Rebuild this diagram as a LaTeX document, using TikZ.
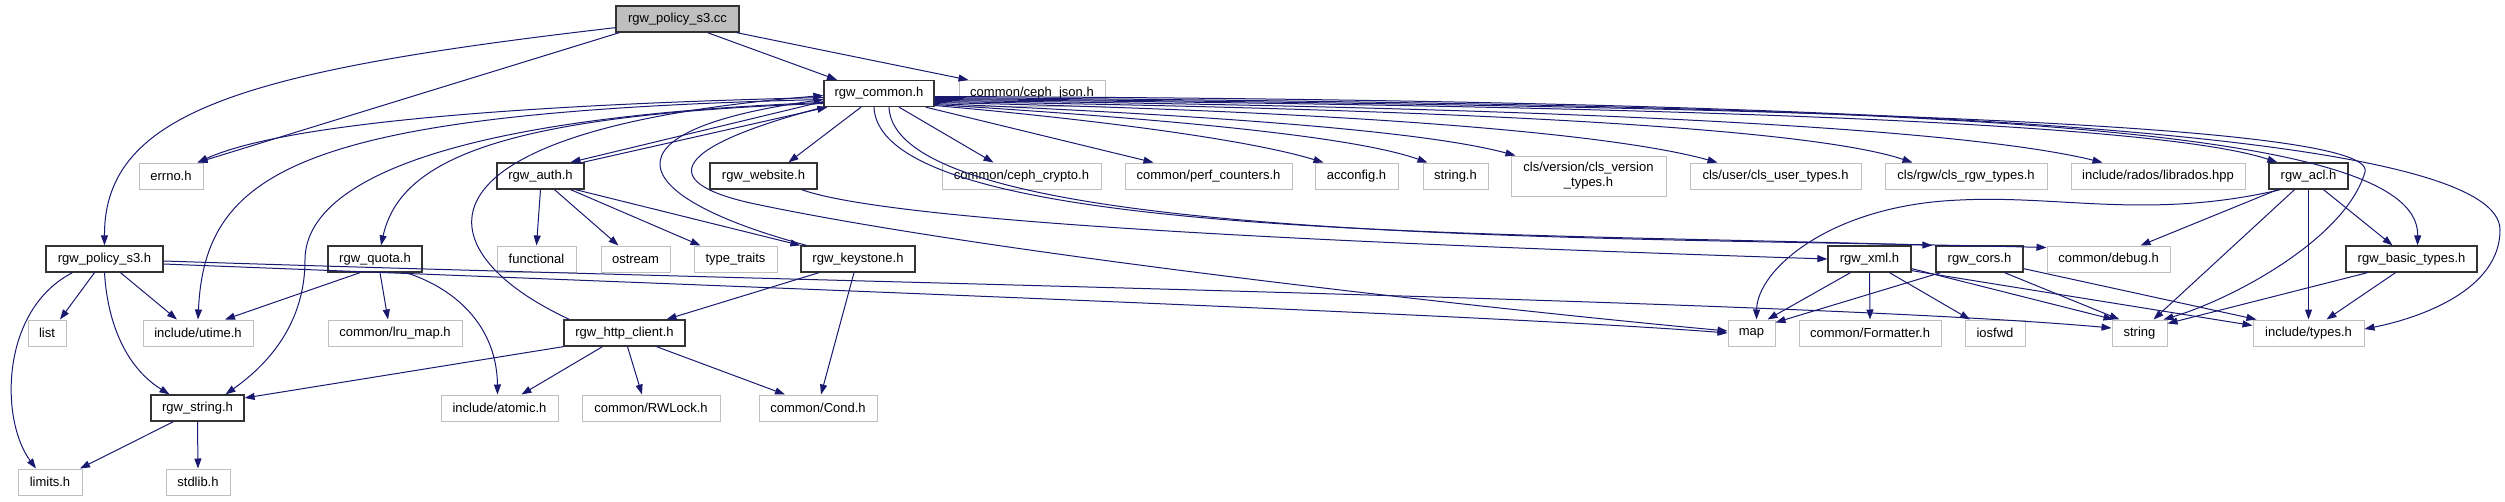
\documentclass[tikz,border=0pt]{standalone}
\usepackage{fontspec}
\setmainfont{Liberation Sans}
\usetikzlibrary{arrows.meta}

\definecolor{edgeblue}{HTML}{191970}
\definecolor{sysgray}{HTML}{BFBFBF}

\begin{document}
\begin{tikzpicture}[x=1pt, y=-1pt,
    every node/.style={font=\fontsize{13}{15}\selectfont, inner sep=0pt, minimum height=26pt},
    hdr/.style={draw=black!80, line width=1.3pt, fill=white},
    sys/.style={draw=sysgray, line width=1pt, fill=white},
    root/.style={draw=black!80, line width=1.3pt, fill=sysgray},
    dep/.style={draw=edgeblue, line width=1pt, -{Triangle[length=10pt,width=7pt]}}]

    \useasboundingbox (0,0) rectangle (2505,501);

    % row 0 and 1
    \node [root, minimum width=123pt] (cc) at (677.5,19) {rgw\_policy\_s3.cc};
    \node [hdr, minimum width=110pt] (common) at (879,93.5) {rgw\_common.h};
    \node [sys, minimum width=146pt] (cephjson) at (1032,93.5) {common/ceph\_json.h};

    % row 2
    \node [sys, minimum width=64pt] (errno) at (171,176) {errno.h};
    \node [hdr, minimum width=87pt] (auth) at (540.5,176) {rgw\_auth.h};
    \node [hdr, minimum width=107pt] (website) at (763.5,176) {rgw\_website.h};
    \node [sys, minimum width=159pt] (cephcrypto) at (1021.5,176) {common/ceph\_crypto.h};
    \node [sys, minimum width=167pt] (perfcounters) at (1208.5,176) {common/perf\_counters.h};
    \node [sys, minimum width=83pt] (acconfig) at (1356.5,176) {acconfig.h};
    \node [sys, minimum width=65pt] (stringh) at (1455.5,176) {string.h};
    \node [sys, minimum width=155pt, minimum height=40pt, align=center] (clsversion) at (1588.5,176) {cls/version/cls\_version\\\_types.h};
    \node [sys, minimum width=171pt] (clsuser) at (1775.5,176) {cls/user/cls\_user\_types.h};
    \node [sys, minimum width=162pt] (clsrgw) at (1966,176) {cls/rgw/cls\_rgw\_types.h};
    \node [sys, minimum width=174pt] (librados) at (2158,176) {include/rados/librados.hpp};
    \node [hdr, minimum width=79pt] (acl) at (2308.5,176) {rgw\_acl.h};

    % row 3
    \node [hdr, minimum width=117pt] (policyh) at (104.5,259) {rgw\_policy\_s3.h};
    \node [hdr, minimum width=94pt] (quota) at (375,259) {rgw\_quota.h};
    \node [sys, minimum width=79pt] (functional) at (536.5,259) {functional};
    \node [sys, minimum width=69pt] (ostream) at (635.5,259) {ostream};
    \node [sys, minimum width=83pt] (typetraits) at (735.5,259) {type\_traits};
    \node [hdr, minimum width=114pt] (keystone) at (858,259) {rgw\_keystone.h};
    \node [hdr, minimum width=83pt] (xml) at (1869.5,259) {rgw\_xml.h};
    \node [hdr, minimum width=87pt] (cors) at (1979.5,259) {rgw\_cors.h};
    \node [sys, minimum width=123pt] (debug) at (2108.5,259) {common/debug.h};
    \node [hdr, minimum width=131pt] (basictypes) at (2411.5,259) {rgw\_basic\_types.h};

    % row 4
    \node [sys, minimum width=38pt] (list) at (47,333) {list};
    \node [sys, minimum width=110pt] (utime) at (198,333) {include/utime.h};
    \node [sys, minimum width=134pt] (lrumap) at (395,333) {common/lru\_map.h};
    \node [hdr, minimum width=121pt] (httpclient) at (624.5,333) {rgw\_http\_client.h};
    \node [sys, minimum width=47pt] (map) at (1751.5,333) {map};
    \node [sys, minimum width=142pt] (formatter) at (1870,333) {common/Formatter.h};
    \node [sys, minimum width=60pt] (iosfwd) at (1995,333) {iosfwd};
    \node [sys, minimum width=55pt] (string) at (2139.5,333) {string};
    \node [sys, minimum width=111pt] (types) at (2308.5,333) {include/types.h};

    % row 5 and 6
    \node [hdr, minimum width=93pt] (rgwstring) at (197.5,408) {rgw\_string.h};
    \node [sys, minimum width=117pt] (atomic) at (499.5,408) {include/atomic.h};
    \node [sys, minimum width=138pt] (rwlock) at (651,408) {common/RWLock.h};
    \node [sys, minimum width=118pt] (cond) at (818,408) {common/Cond.h};
    \node [sys, minimum width=64pt] (limits) at (50,482) {limits.h};
    \node [sys, minimum width=64pt] (stdlib) at (198,482) {stdlib.h};

    % rgw_policy_s3.cc
    \draw [dep] ([yshift=5pt]cc.south west) .. controls (250,70) and (104,110) .. (policyh.north);
    \draw [dep] ([xshift=4pt]cc.south west) -- ([xshift=-6pt]errno.north east);
    \draw [dep] ([xshift=30pt]cc.south) -- ([xshift=-42pt]common.north);
    \draw [dep] ([xshift=-3pt]cc.south east) -- ([xshift=10pt]cephjson.north west);

    % rgw_common.h, to the left
    \draw [dep] ([yshift=-4pt]common.west) .. controls (500,105) and (280,125) .. ([xshift=-6pt]errno.north east);
    \draw [dep] ([yshift=-6pt]common.west) .. controls (300,112) and (205,170) .. (utime.north);
    \draw [dep] ([yshift=-9pt]common.west) .. controls (420,118) and (305,190) .. (305,260)
        .. controls (305,330) and (260,370) .. ([xshift=28pt]rgwstring.north);
    \draw [dep] ([yshift=-10pt]common.west) .. controls (500,115) and (400,160) .. ([xshift=6pt]quota.north);
    \draw [dep] ([yshift=-8pt]common.west) -- ([xshift=30pt]auth.north);
    \draw [dep] (common.south west) .. controls (660,150) and (660,185) .. (760,205)
        .. controls (1000,255) and (1500,310) .. ([yshift=2pt]map.west);

    % rgw_common.h, below
    \draw [dep] ([xshift=-18pt]common.south) -- ([xshift=25pt]website.north);
    \draw [dep] ([xshift=20pt]common.south) -- ([xshift=-28pt]cephcrypto.north);
    \draw [dep] ([xshift=-9pt]common.south east) -- ([xshift=-55pt]perfcounters.north);
    \draw [dep] ([xshift=-5pt]common.south) .. controls (880,240) and (1500,232) .. ([xshift=-3pt]cors.north west);
    \draw [dep] ([xshift=10pt]common.south) .. controls (895,245) and (1600,236) .. ([yshift=-2pt]debug.north west);

    % rgw_common.h, to the right
    \draw [dep] ([yshift=-12pt]common.east) .. controls (1100,120) and (1250,140) .. ([xshift=-33pt]acconfig.north);
    \draw [dep] ([yshift=-11pt]common.east) .. controls (1150,118) and (1350,135) .. ([xshift=-28pt]stringh.north);
    \draw [dep] ([yshift=-10pt]common.east) .. controls (1200,115) and (1420,130) .. ([xshift=5pt]clsversion.north west);
    \draw [dep] ([yshift=-9pt]common.east) .. controls (1300,110) and (1600,130) .. ([xshift=28pt]clsuser.north west);
    \draw [dep] ([yshift=-8pt]common.east) .. controls (1400,108) and (1800,125) .. ([xshift=28pt]clsrgw.north west);
    \draw [dep] ([yshift=-7pt]common.east) .. controls (1500,106) and (1950,125) .. ([xshift=32pt]librados.north west);
    \draw [dep] ([yshift=-6pt]common.east) .. controls (1600,105) and (2150,120) .. ([xshift=9pt]acl.north west);
    \draw [dep] ([yshift=-5pt]common.east) .. controls (1700,105) and (2380,120) .. (2365,172)
        .. controls (2345,240) and (2230,300) .. ([xshift=-4pt]string.north east);
    \draw [dep] ([yshift=-4pt]common.east) .. controls (1900,105) and (2420,120) .. ([xshift=6pt]basictypes.north);
    \draw [dep] ([yshift=-3pt]common.east) .. controls (2000,100) and (2500,140) .. (2500,230)
        .. controls (2500,290) and (2420,318) .. ([yshift=4pt]types.east);

    % back to rgw_common.h
    \draw [dep] ([xshift=-2pt]auth.north east) -- ([xshift=4pt]common.south west);
    \draw [dep] ([xshift=6pt]keystone.north west) .. controls (620,195) and (600,130) .. ([yshift=-6pt]common.west);
    \draw [dep] ([xshift=6pt]httpclient.north west) .. controls (420,250) and (400,130) .. ([yshift=-2pt]common.west);

    % rgw_policy_s3.h
    \draw [dep] ([xshift=-10pt]policyh.south) -- ([xshift=13pt]list.north);
    \draw [dep] ([xshift=16pt]policyh.south) -- ([xshift=-21pt]utime.north);
    \draw [dep] (policyh.south) .. controls (108,330) and (130,370) .. ([xshift=-28pt]rgwstring.north);
    \draw [dep] ([xshift=-32pt]policyh.south) .. controls (0,310) and (0,420) .. ([xshift=-14pt]limits.north);
    \draw [dep] ([yshift=-5pt]policyh.east) .. controls (700,285) and (1500,315) .. (map.west);
    \draw [dep] ([yshift=-2pt]policyh.east) .. controls (800,282) and (1800,300) .. ([yshift=5pt]string.west);

    % rgw_quota.h, rgw_auth.h
    \draw [dep] ([xshift=-15pt]quota.south) -- ([xshift=27pt]utime.north);
    \draw [dep] ([xshift=5pt]quota.south) -- ([xshift=-7pt]lrumap.north);
    \draw [dep] ([xshift=31pt]quota.south) .. controls (460,290) and (497,330) .. ([xshift=-2pt]atomic.north);
    \draw [dep] (auth.south) -- (functional.north);
    \draw [dep] ([xshift=14pt]auth.south) -- ([xshift=-17pt]ostream.north);
    \draw [dep] ([xshift=-14pt]auth.south east) -- ([xshift=-35pt]typetraits.north);
    \draw [dep] ([xshift=-9pt]auth.south east) -- (keystone.north west);

    % rgw_keystone.h, rgw_http_client.h, rgw_string.h
    \draw [dep] ([xshift=-39pt]keystone.south) -- ([xshift=42pt]httpclient.north);
    \draw [dep] ([xshift=-4pt]keystone.south) -- ([xshift=3pt]cond.north);
    \draw [dep] (httpclient.south west) -- ([yshift=10pt]rgwstring.east);
    \draw [dep] ([xshift=-22pt]httpclient.south) -- ([xshift=22pt]atomic.north);
    \draw [dep] ([xshift=3pt]httpclient.south) -- ([xshift=-9pt]rwlock.north);
    \draw [dep] ([xshift=32pt]httpclient.south) -- ([xshift=-33pt]cond.north);
    \draw [dep] ([xshift=-24pt]rgwstring.south) -- ([xshift=30pt]limits.north);
    \draw [dep] (rgwstring.south) -- (stdlib.north);

    % rgw_website.h, rgw_xml.h, rgw_cors.h
    \draw [dep] ([xshift=-16pt]website.south east) .. controls (900,225) and (1400,245) .. (xml.west);
    \draw [dep] ([xshift=-19pt]xml.south) -- ([xshift=-8pt]map.north east);
    \draw [dep] (xml.south) -- (formatter.north);
    \draw [dep] ([xshift=20pt]xml.south) -- ([xshift=-25pt]iosfwd.north);
    \draw [dep] ([yshift=4pt]xml.south east) -- ([xshift=2pt]string.north west);
    \draw [dep] ([yshift=2pt]xml.south east) -- ([yshift=-6pt]types.north west);
    \draw [dep] ([xshift=-39pt]cors.south) -- ([yshift=-3pt]map.north east);
    \draw [dep] ([xshift=25pt]cors.south) -- ([xshift=8pt]string.north west);
    \draw [dep] ([yshift=4pt]cors.south east) -- ([xshift=4pt]types.north west);

    % rgw_acl.h, rgw_basic_types.h
    \draw [dep] ([xshift=-28pt]acl.south) .. controls (2150,220) and (2060,195) .. (1960,200)
        .. controls (1830,205) and (1757,270) .. ([xshift=5pt]map.north);
    \draw [dep] ([xshift=-31pt]acl.south) -- ([xshift=32pt]debug.north);
    \draw [dep] ([xshift=-14pt]acl.south) -- ([xshift=14pt]string.north);
    \draw [dep] (acl.south) -- (types.north);
    \draw [dep] ([xshift=15pt]acl.south) -- ([xshift=-19pt]basictypes.north);
    \draw [dep] ([xshift=-44pt]basictypes.south) -- ([yshift=-4pt]string.north east);
    \draw [dep] ([xshift=-16pt]basictypes.south) -- ([xshift=18pt]types.north);

\end{tikzpicture}
\end{document}
